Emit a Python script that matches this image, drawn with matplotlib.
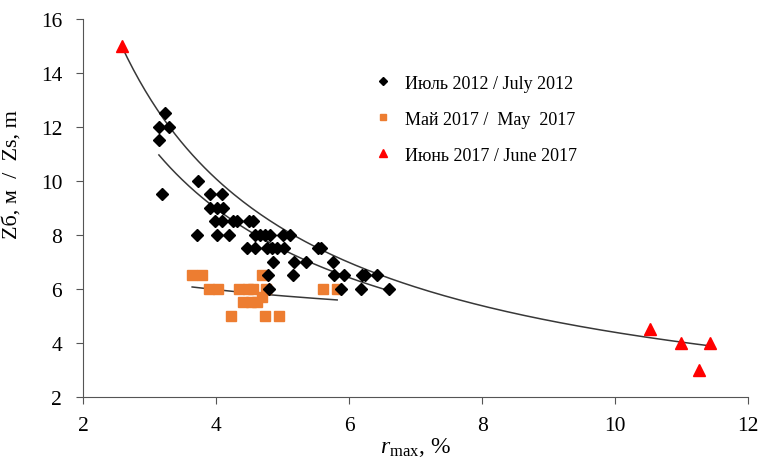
import numpy as np
import matplotlib.pyplot as plt

plt.rcParams['font.family'] = ['Liberation Serif', 'DejaVu Serif']
plt.rcParams['mathtext.fontset'] = 'custom'
plt.rcParams['mathtext.rm'] = 'Liberation Serif'
plt.rcParams['mathtext.it'] = 'Liberation Serif:italic'

# July 2012 (black diamonds)
jul2012_x = [3.14, 3.23, 3.29, 3.14, 3.19, 3.73, 3.71,
             3.91, 4.09, 3.91, 4.01, 4.11,
             3.98, 4.09, 4.26, 4.31, 4.50, 4.56,
             4.01, 4.20, 4.59, 4.66, 4.74, 4.81, 5.00, 5.11,
             4.47, 4.59, 4.77, 4.84, 4.92, 5.02, 5.53, 5.58,
             4.86, 5.17, 5.35, 5.76,
             4.78, 5.16, 5.77, 5.93, 6.20, 6.24, 6.42,
             4.80, 5.88, 6.18, 6.60]
jul2012_y = [12.0, 12.5, 12.0, 11.5, 9.5, 10.0, 8.0,
             9.5, 9.5, 9.0, 9.0, 9.0,
             8.5, 8.5, 8.5, 8.5, 8.5, 8.5,
             8.0, 8.0, 8.0, 8.0, 8.0, 8.0, 8.0, 8.0,
             7.5, 7.5, 7.5, 7.5, 7.5, 7.5, 7.5, 7.5,
             7.0, 7.0, 7.0, 7.0,
             6.5, 6.5, 6.5, 6.5, 6.5, 6.5, 6.5,
             6.0, 6.0, 6.0, 6.0]

# May 2017 (orange squares)
may2017_x = [3.64, 3.79, 4.69,
             3.90, 4.03, 4.35, 4.48, 4.56, 4.75, 5.60, 5.82,
             4.41, 4.53, 4.62, 4.69,
             4.23, 4.74, 4.95]
may2017_y = [6.5, 6.5, 6.5,
             6.0, 6.0, 6.0, 6.0, 6.0, 6.0, 6.0, 6.0,
             5.5, 5.5, 5.5, 5.7,
             5.0, 5.0, 5.0]

# June 2017 (red triangles)
jun2017_x = [2.58, 10.53, 10.99, 11.43, 11.26]
jun2017_y = [15.0, 4.5, 4.0, 4.0, 3.0]

# power trend lines y = a * x^b (a, b, x from, x to)
trend_all = (35.4, -0.9066, 2.58, 11.43)
trend_2012 = (28.22, -0.8267, 3.14, 6.60)
trend_2017 = (6.07 * 3.64 ** 0.1756, -0.1756, 3.64, 5.82)

fig = plt.figure(figsize=(7.62, 4.6), dpi=100)
ax = fig.add_axes([0.109, 0.135, 0.873, 0.822])

for a, b, x0, x1 in [trend_all, trend_2012, trend_2017]:
    xs = np.linspace(x0, x1, 200)
    ax.plot(xs, a * xs ** b, color='#383838', linewidth=1.1, zorder=1)

ax.plot(jul2012_x, jul2012_y, 'D', color='black', ms=5.8, linestyle='none',
        label='Июль 2012 / July 2012', zorder=3)
ax.plot(may2017_x, may2017_y, 's', color='#ed7d31', ms=6.5, linestyle='none',
        label='Май 2017 /  May  2017', zorder=2)
ax.plot(jun2017_x, jun2017_y, '^', color='#ff0000', ms=8, linestyle='none',
        label='Июнь 2017 / June 2017', zorder=3)

ax.set_xlim(2, 12)
ax.set_ylim(2, 16)
ax.set_xticks([2, 4, 6, 8, 10, 12])
ax.set_yticks([2, 4, 6, 8, 10, 12, 14, 16])
ax.tick_params(labelsize=15.5, direction='out', length=5, color='#555555')
ax.tick_params(axis='y', pad=10)
ax.tick_params(axis='x', pad=9)
for side in ['top', 'right']:
    ax.spines[side].set_visible(False)
for side in ['left', 'bottom']:
    ax.spines[side].set_color('#555555')

ax.set_ylabel('Zб, м  /  Zs, m', fontsize=16)
ax.yaxis.set_label_coords(-0.092, 0.59)
ax.set_xlabel(r'$r_{\mathrm{max}}$, %', fontsize=17, labelpad=0)

ax.legend(loc='upper left', bbox_to_anchor=(0.41, 0.895), frameon=False,
          fontsize=13, labelspacing=1.05, handletextpad=0.6, handlelength=1.2,
          markerscale=0.75)

plt.savefig('out.png', dpi=100)
